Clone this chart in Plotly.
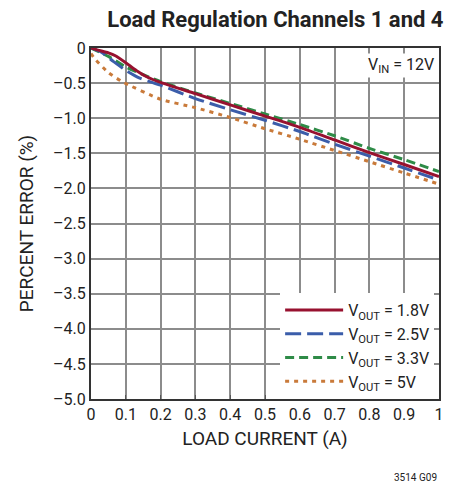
import plotly.graph_objects as go

FONT = "Roboto, Liberation Sans, sans-serif"

# data
x_red = [0, 0.02, 0.05, 0.07, 0.1, 0.13, 0.16, 0.2, 0.3, 0.4, 0.5, 0.6, 0.7, 0.8, 0.9, 1.0]
y_red = [0, -0.03, -0.07, -0.11, -0.21, -0.32, -0.41, -0.49, -0.65, -0.81, -0.97, -1.13, -1.31, -1.49, -1.66, -1.83]

x_blue = [0, 0.03, 0.064, 0.1, 0.14, 0.2, 0.3, 0.4, 0.5, 0.6, 0.7, 0.8, 0.9, 1.0]
y_blue = [0, -0.06, -0.19, -0.32, -0.43, -0.53, -0.72, -0.88, -1.03, -1.19, -1.37, -1.54, -1.71, -1.88]

x_green = [0, 0.05, 0.1, 0.15, 0.2, 0.3, 0.4, 0.5, 0.6, 0.7, 0.8, 0.9, 1.0]
y_green = [0, -0.12, -0.27, -0.38, -0.48, -0.64, -0.79, -0.94, -1.09, -1.25, -1.43, -1.59, -1.76]

x_orange = [0, 0.01, 0.05, 0.09, 0.2, 0.3, 0.4, 0.5, 0.6, 0.7, 0.8, 0.9, 1.0]
y_orange = [-0.08, -0.15, -0.35, -0.48, -0.73, -0.85, -0.99, -1.15, -1.30, -1.46, -1.62, -1.78, -1.94]

x_ticks = [0, 0.1, 0.2, 0.3, 0.4, 0.5, 0.6, 0.7, 0.8, 0.9, 1.0]
x_tick_labels = ["0", "0.1", "0.2", "0.3", "0.4", "0.5", "0.6", "0.7", "0.8", "0.9", "1"]
y_ticks = [0, -0.5, -1.0, -1.5, -2.0, -2.5, -3.0, -3.5, -4.0, -4.5, -5.0]
y_tick_labels = ["0", "\u20130.5", "\u20131.0", "\u20131.5", "\u20132.0", "\u20132.5",
                 "\u20133.0", "\u20133.5", "\u20134.0", "\u20134.5", "\u20135.0"]

series = [
    ("V<sub>OUT</sub> = 1.8V", x_red, y_red, "#97112F", "solid"),
    ("V<sub>OUT</sub> = 2.5V", x_blue, y_blue, "#3B5DAA", "16px,6px"),
    ("V<sub>OUT</sub> = 3.3V", x_green, y_green, "#2E8B47", "9px,5px"),
    ("V<sub>OUT</sub> = 5V", x_orange, y_orange, "#C97A3A", "4px,5px"),
]

fig = go.Figure()
# draw in reverse order so red is on top
for name, xs, ys, col, dash in reversed(series):
    fig.add_trace(go.Scatter(x=xs, y=ys, mode="lines", name=name,
                             line=dict(color=col, width=3, dash=dash, shape="spline", smoothing=0.6)))

# page body has an 8px margin, so the figure is sized 8px smaller
fig.update_layout(
    width=448, height=479,
    margin=dict(l=83, r=15, t=40, b=88),
    paper_bgcolor="white", plot_bgcolor="white",
    font=dict(family=FONT, size=16, color="#222"),
    title=dict(text="<b>Load Regulation Channels 1 and 4</b>", x=0.972, xanchor="right",
               y=0.977, yanchor="middle", font=dict(family=FONT, size=22, color="#222")),
    showlegend=True,
    legend=dict(x=0.986, y=0, xanchor="right", yanchor="bottom", traceorder="reversed",
                bgcolor="white", borderwidth=0, font=dict(size=16), itemwidth=58,
                tracegroupgap=0),
    xaxis=dict(range=[0, 1], tickvals=x_ticks, ticktext=x_tick_labels,
               showgrid=True, gridcolor="#8c8c8c", gridwidth=1.5,
               showline=True, linecolor="#333", linewidth=2, mirror=True,
               ticks="inside", ticklen=4, tickcolor="#555",
               zeroline=False, title=dict(text="LOAD CURRENT (A)", standoff=8)),
    yaxis=dict(range=[-5, 0], tickvals=y_ticks, ticktext=y_tick_labels,
               showgrid=True, gridcolor="#8c8c8c", gridwidth=1.5,
               showline=True, linecolor="#333", linewidth=2, mirror=True,
               ticks="", zeroline=False, title=dict(text="PERCENT ERROR (%)", standoff=14)),
)

fig.add_annotation(text="V<sub>IN</sub> = 12V", xref="paper", yref="paper", x=0.99, y=0.985,
                   xanchor="right", yanchor="top", showarrow=False, bgcolor="white",
                   font=dict(size=16))
fig.add_annotation(text="3514 G09", xref="paper", yref="paper", x=1.0, y=-0.225,
                   xanchor="right", yanchor="middle", showarrow=False,
                   font=dict(size=10))

fig.write_html("out.html")
